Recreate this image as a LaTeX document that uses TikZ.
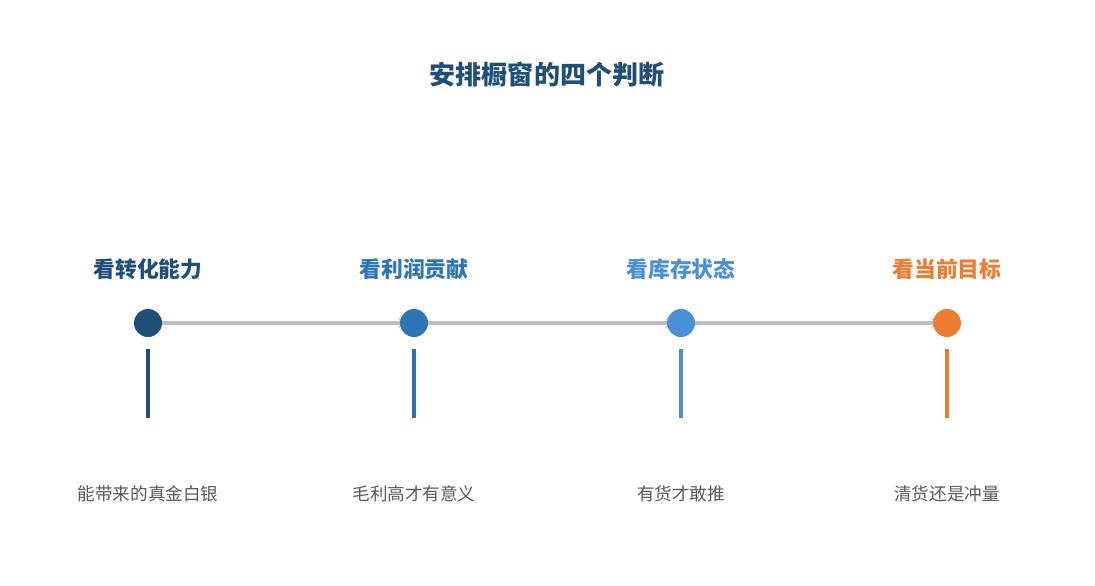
\documentclass[tikz,border=0pt]{standalone}
\usepackage{fontspec}
\setmainfont{Noto Sans CJK SC}
\usetikzlibrary{positioning, arrows.meta, backgrounds}
\definecolor{stepone}{HTML}{1F4E79}
\definecolor{steptwo}{HTML}{2E75B6}
\definecolor{stepthree}{HTML}{4A90D9}
\definecolor{stepfour}{HTML}{ED7D31}
\definecolor{linkgray}{HTML}{BFBFBF}
\definecolor{notegray}{HTML}{595959}
\tikzset{
  dot/.style = {circle, minimum size = 0.7cm, inner sep = 0pt},
  head/.style = {font = \fontsize{15.5}{18}\selectfont\bfseries},
  note/.style = {font = \fontsize{12.5}{15}\selectfont, text = notegray},
  link/.style = {line width = 2.2pt, draw = linkgray, -{Stealth[length = 6pt, width = 7pt]}, shorten > = -5pt},
  stem/.style = {line width = 2.8pt}
}
\begin{document}
\begin{tikzpicture}[x = 0.025cm, y = -0.025cm]
	\useasboundingbox (0,0) rectangle (1095,585);
	\node[font = \fontsize{18.5}{22}\selectfont\bfseries, text = stepone] (title) at (547,75) {安排橱窗的四个判断};
	
	\node[dot, fill = stepone] (d1) at (148,323) {};
	\node[dot, fill = steptwo] (d2) at (414,323) {};
	\node[dot, fill = stepthree] (d3) at (681,323) {};
	\node[dot, fill = stepfour] (d4) at (947,323) {};
	
	\node[head, text = stepone] (h1) at (148,269) {看转化能力};
	\node[head, text = steptwo] (h2) at (414,269) {看利润贡献};
	\node[head, text = stepthree] (h3) at (681,269) {看库存状态};
	\node[head, text = stepfour] (h4) at (947,269) {看当前目标};
	
	\coordinate (s1) at (148,418);
	\coordinate (s2) at (414,418);
	\coordinate (s3) at (681,418);
	\coordinate (s4) at (947,418);
	
	\node[note] (n1) at (148,494) {能带来的真金白银};
	\node[note] (n2) at (414,494) {毛利高才有意义};
	\node[note] (n3) at (681,494) {有货才敢推};
	\node[note] (n4) at (947,494) {清货还是冲量};
	
	\begin{pgfonlayer}{background}
		\draw[link] (d1) -- (d2);
		\draw[link] (d2) -- (d3);
		\draw[link] (d3) -- (d4);
	\end{pgfonlayer}
	
	\draw[stem, stepone] ([yshift = -8pt]d1.south) -- (s1);
	\draw[stem, steptwo] ([yshift = -8pt]d2.south) -- (s2);
	\draw[stem, stepthree] ([yshift = -8pt]d3.south) -- (s3);
	\draw[stem, stepfour] ([yshift = -8pt]d4.south) -- (s4);
\end{tikzpicture}
\end{document}
